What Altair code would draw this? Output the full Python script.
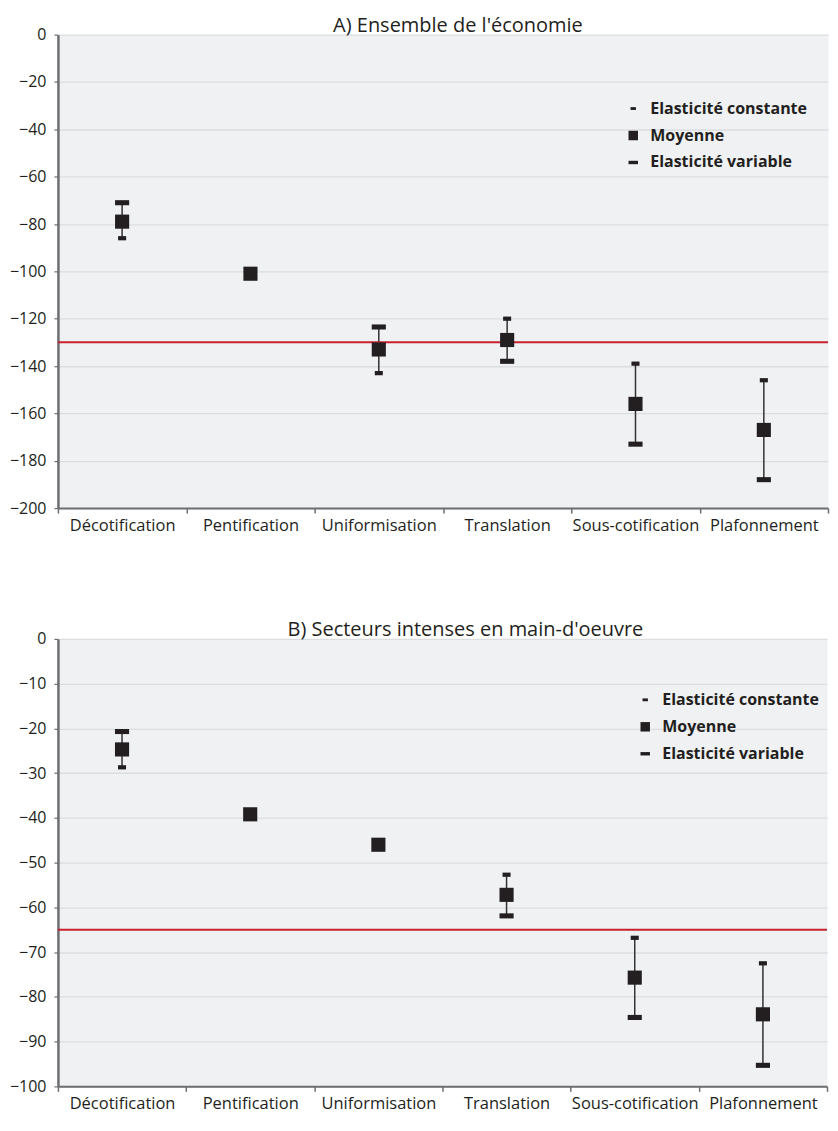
import altair as alt
import pandas as pd

categories = ["Décotification", "Pentification", "Uniformisation",
              "Translation", "Sous-cotification", "Plafonnement"]
series_names = ["Elasticité constante", "Moyenne", "Elasticité variable"]

# Panel A
a_title = "A) Ensemble de l'économie"
a_moyenne = [-79, -101, -133, -129, -156, -167]
a_constante = [-86, None, -143, -120, -139, -146]
a_variable = [-71, None, -123.5, -138, -173, -188]
a_reference = -130
a_ticks = [0, -20, -40, -60, -80, -100, -120, -140, -160, -180, -200]

# Panel B
b_title = "B) Secteurs intenses en main-d'oeuvre"
b_moyenne = [-24.7, -39.2, -46, -57.2, -75.7, -83.9]
b_constante = [-28.7, None, None, -52.7, -66.8, -72.5]
b_variable = [-20.7, None, None, -61.9, -84.6, -95.3]
b_reference = -65
b_ticks = [0, -10, -20, -30, -40, -50, -60, -70, -80, -90, -100]

FONT = "Open Sans"
INK = "#231f20"
AXIS_GRAY = "#6d6e70"
SHAPES = ["M-0.57,-0.3H0.57V0.3H-0.57Z",   # constante: narrow cap
          "M-1,-1H1V1H-1Z",                 # moyenne: square
          "M-1,-0.36H1V0.36H-1Z"]           # variable: wide cap


def panel(title, moy, cst, var, ref, ticks, width, height, dx, lx, ly):
    rows = []
    for c, m, k, v in zip(categories, moy, cst, var):
        if k is not None:
            rows.append({"cat": c, "serie": series_names[0], "val": k})
        rows.append({"cat": c, "serie": series_names[1], "val": m})
        if v is not None:
            rows.append({"cat": c, "serie": series_names[2], "val": v})
    pts = pd.DataFrame(rows)
    rng = pd.DataFrame([{"cat": c, "lo": min(k, v), "hi": max(k, v)}
                        for c, k, v in zip(categories, cst, var)
                        if k is not None and v is not None])
    refdf = pd.DataFrame({"val": [ref]})

    yscale = alt.Scale(domain=[min(ticks), max(ticks)], nice=False)
    xenc = alt.X("cat:N", sort=categories,
                 scale=alt.Scale(paddingInner=0, paddingOuter=0),
                 axis=alt.Axis(title=None, labelAngle=0, tickBand="extent",
                               labelFont=FONT, labelFontSize=16.5, labelColor=INK,
                               labelPadding=4, tickSize=5, tickColor=AXIS_GRAY,
                               tickWidth=1.5, domainColor=AXIS_GRAY,
                               domainWidth=2, grid=False))
    yaxis = alt.Axis(title=None, values=ticks, labelFont=FONT, labelFontSize=16,
                     labelColor=INK, labelPadding=8, tickSize=4,
                     tickColor=AXIS_GRAY, tickWidth=1.2, domainColor=AXIS_GRAY,
                     domainWidth=2.5, grid=True, gridColor="#dcdde0",
                     gridWidth=1.3)

    bars = alt.Chart(rng).mark_rule(color="#333333", strokeWidth=1.5).encode(
        x=xenc,
        y=alt.Y("lo:Q", scale=yscale, axis=yaxis),
        y2="hi:Q",
    )
    refline = alt.Chart(refdf).mark_rule(color="#c8202f", strokeWidth=2).encode(
        y=alt.Y("val:Q", scale=yscale),
    )
    points = alt.Chart(pts).mark_point(filled=True, size=200, opacity=1,
                                       color=INK).encode(
        x=alt.X("cat:N", sort=categories),
        y=alt.Y("val:Q", scale=yscale),
        shape=alt.Shape("serie:N",
                        scale=alt.Scale(domain=series_names, range=SHAPES),
                        legend=alt.Legend(title=None, orient="none",
                                          legendX=lx, legendY=ly, padding=0,
                                          labelFont=FONT, labelFontWeight="bold",
                                          labelFontSize=16, labelColor=INK,
                                          labelLimit=400,
                                          symbolSize=90, symbolFillColor=INK,
                                          symbolStrokeWidth=0, labelOffset=9,
                                          rowPadding=11)),
    )
    return alt.layer(bars, refline, points).properties(
        width=width, height=height,
        title=alt.TitleParams(title, anchor="middle", dx=dx, offset=-9,
                              frame="group", font=FONT, fontSize=20,
                              fontWeight="normal", color=INK),
    )


chart_a = panel(a_title, a_moyenne, a_constante, a_variable, a_reference,
                a_ticks, 771, 474, 15, 568, 66)
chart_b = panel(b_title, b_moyenne, b_constante, b_variable, b_reference,
                b_ticks, 770, 448, 23, 580, 53)

chart = alt.vconcat(chart_a, chart_b, spacing=85).resolve_scale(
    shape="independent"
).resolve_legend(shape="independent").properties(
    padding={"top": 6, "left": 0, "right": 0, "bottom": 0}
).configure_view(fill="#f0f1f3", stroke="transparent")

chart.save("out.html", embed_options={"renderer": "svg", "actions": False})
